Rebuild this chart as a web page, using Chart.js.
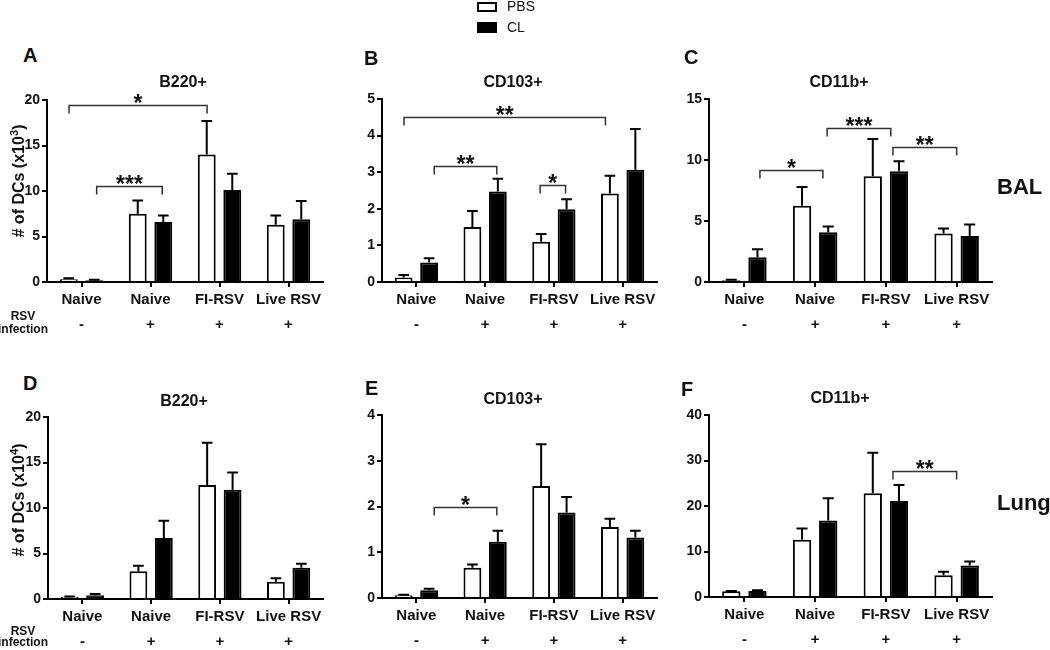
<!DOCTYPE html>
<html>
<head>
<meta charset="utf-8">
<script src="https://cdn.jsdelivr.net/npm/chart.js@4.4.1/dist/chart.umd.min.js"></script>
<style>
  html, body { margin: 0; padding: 0; background: #fff; }
  #fig { position: relative; width: 1050px; height: 650px; overflow: hidden;
         font-family: 'Liberation Sans', Arial, sans-serif; color: #111; }
  #fig canvas { position: absolute; }
  .t { position: absolute; line-height: 1; white-space: nowrap; }
  .box { position: absolute; box-sizing: border-box; border: 2px solid #000; }
  sup { font-size: 0.7em; line-height: 0; }
</style>
</head>
<body>
<div id="fig"></div>
<script>
// categories
const groups = ['Naive', 'Naive', 'FI-RSV', 'Live RSV'];
const infection = ['-', '+', '+', '+'];

// BAL (x10^3)
const balB220Pbs = [0.3, 7.5, 14.0, 6.3];
const balB220PbsSem = [0.1, 1.45, 3.7, 1.0];
const balB220Cl = [0.2, 6.6, 10.1, 6.9];
const balB220ClSem = [0.05, 0.7, 1.8, 2.0];

const balCd103Pbs = [0.12, 1.5, 1.1, 2.42];
const balCd103PbsSem = [0.07, 0.44, 0.21, 0.48];
const balCd103Cl = [0.53, 2.47, 1.99, 3.07];
const balCd103ClSem = [0.12, 0.35, 0.27, 1.11];

const balCd11bPbs = [0.14, 6.25, 8.66, 3.97];
const balCd11bPbsSem = [0.05, 1.53, 3.07, 0.41];
const balCd11bCl = [2.03, 4.08, 9.07, 3.78];
const balCd11bClSem = [0.65, 0.47, 0.82, 0.93];

// Lung (x10^4)
const lungB220Pbs = [0.22, 3.04, 12.53, 1.9];
const lungB220PbsSem = [0.05, 0.62, 4.65, 0.37];
const lungB220Cl = [0.4, 6.7, 12.0, 3.44];
const lungB220ClSem = [0.15, 1.9, 1.9, 0.44];

const lungCd103Pbs = [0.06, 0.66, 2.45, 1.55];
const lungCd103PbsSem = [0.01, 0.07, 0.91, 0.18];
const lungCd103Cl = [0.17, 1.23, 1.87, 1.32];
const lungCd103ClSem = [0.03, 0.24, 0.34, 0.15];

const lungCd11bPbs = [1.24, 12.58, 22.8, 4.8];
const lungCd11bPbsSem = [0.1, 2.48, 8.9, 0.76];
const lungCd11bCl = [1.3, 16.8, 21.1, 6.95];
const lungCd11bClSem = [0.2, 4.9, 3.5, 0.85];

// significance brackets: [from category pos, to category pos, y value, label]
const balB220Sig = [[-0.18, 1.82, 19.45, '*'], [0.22, 1.17, 10.6, '***']];
const balCd103Sig = [[-0.18, 2.75, 4.5, '**'], [0.26, 1.17, 3.16, '**'], [1.8, 2.17, 2.65, '*']];
const balCd11bSig = [[0.22, 1.11, 9.15, '*'], [1.17, 2.07, 12.6, '***'], [2.1, 3.0, 11.07, '**']];
const lungCd103Sig = [[0.26, 1.17, 1.99, '*']];
const lungCd11bSig = [[2.1, 3.0, 27.8, '**']];

const FONT = "'Liberation Sans', Arial, sans-serif";
const fig = document.getElementById('fig');

function addText(html, x, base, size, bold, center) {
    const d = document.createElement('div');
    d.className = 't';
    d.innerHTML = html;
    d.style.fontSize = size + 'px';
    d.style.fontWeight = bold ? 'bold' : 'normal';
    d.style.left = x + 'px';
    d.style.top = (base - 0.8465 * size) + 'px';
    if (center) d.style.transform = 'translateX(-50%)';
    fig.appendChild(d);
}

function addVertical(html, cx, cy, size) {
    const d = document.createElement('div');
    d.className = 't';
    d.innerHTML = html;
    d.style.fontSize = size + 'px';
    d.style.fontWeight = 'bold';
    d.style.left = cx + 'px';
    d.style.top = cy + 'px';
    d.style.transform = 'translate(-50%, -50%) rotate(-90deg)';
    fig.appendChild(d);
}

// error bars (upper SEM only)
const errBarPlugin = {
    id: 'errBars',
    afterDatasetsDraw(chart) {
        const ctx = chart.ctx;
        const y = chart.scales.y;
        ctx.save();
        ctx.strokeStyle = '#000';
        ctx.lineWidth = 2;
        chart.data.datasets.forEach((ds, di) => {
            chart.getDatasetMeta(di).data.forEach((bar, i) => {
                const top = y.getPixelForValue(ds.data[i] + ds.sem[i]);
                const half = bar.width * 0.3;
                ctx.beginPath();
                ctx.moveTo(bar.x, bar.y);
                ctx.lineTo(bar.x, top);
                ctx.moveTo(bar.x - half, top);
                ctx.lineTo(bar.x + half, top);
                ctx.stroke();
            });
        });
        ctx.restore();
    }
};

const bracketPlugin = {
    id: 'brackets',
    afterDatasetsDraw(chart, args, opts) {
        const ctx = chart.ctx;
        const xs = chart.scales.x, ys = chart.scales.y;
        ctx.save();
        (opts.items || []).forEach(([a, b, v, label]) => {
            const x1 = xs.getPixelForValue(a);
            const x2 = xs.getPixelForValue(b);
            const yy = Math.round(ys.getPixelForValue(v)) + 0.5;
            ctx.strokeStyle = '#333';
            ctx.lineWidth = 1.5;
            ctx.beginPath();
            ctx.moveTo(x1, yy + 8);
            ctx.lineTo(x1, yy);
            ctx.lineTo(x2, yy);
            ctx.lineTo(x2, yy + 8);
            ctx.stroke();
            ctx.font = 'bold 23px ' + FONT;
            ctx.textAlign = 'center';
            ctx.textBaseline = 'alphabetic';
            ctx.fillStyle = '#111';
            const m = ctx.measureText(label);
            ctx.fillText(label, (x1 + x2) / 2, yy - 3 - m.actualBoundingBoxDescent);
        });
        ctx.restore();
    }
};

const panels = [
    { letter: 'A', lx: 23, lb: 62, title: 'B220+', tx: 183, tb: 88, area: [47, 100, 323, 282], max: 20, step: 5,
      pbs: balB220Pbs, pbsSem: balB220PbsSem, cl: balB220Cl, clSem: balB220ClSem, sig: balB220Sig },
    { letter: 'B', lx: 364, lb: 65, title: 'CD103+', tx: 513, tb: 88, area: [382, 99, 657, 282], max: 5, step: 1,
      pbs: balCd103Pbs, pbsSem: balCd103PbsSem, cl: balCd103Cl, clSem: balCd103ClSem, sig: balCd103Sig },
    { letter: 'C', lx: 684, lb: 64, title: 'CD11b+', tx: 839, tb: 88, area: [709, 99, 992, 282], max: 15, step: 5,
      pbs: balCd11bPbs, pbsSem: balCd11bPbsSem, cl: balCd11bCl, clSem: balCd11bClSem, sig: balCd11bSig },
    { letter: 'D', lx: 23, lb: 390, title: 'B220+', tx: 184, tb: 407, area: [48, 417, 323, 599], max: 20, step: 5,
      pbs: lungB220Pbs, pbsSem: lungB220PbsSem, cl: lungB220Cl, clSem: lungB220ClSem, sig: [] },
    { letter: 'E', lx: 365, lb: 395, title: 'CD103+', tx: 513, tb: 405, area: [382, 415, 657, 598], max: 4, step: 1,
      pbs: lungCd103Pbs, pbsSem: lungCd103PbsSem, cl: lungCd103Cl, clSem: lungCd103ClSem, sig: lungCd103Sig },
    { letter: 'F', lx: 681, lb: 396, title: 'CD11b+', tx: 840, tb: 404, area: [709, 415, 992, 597], max: 40, step: 10,
      pbs: lungCd11bPbs, pbsSem: lungCd11bPbsSem, cl: lungCd11bCl, clSem: lungCd11bClSem, sig: lungCd11bSig }
];

Chart.defaults.font.family = FONT;
Chart.defaults.color = '#111';

function buildChart(p) {
    const [l, t, r, b] = p.area;
    const padTop = 15, yW = 40, xH = 60, padRight = 6;
    const canvas = document.createElement('canvas');
    canvas.width = r - l + yW + padRight;
    canvas.height = b - t + padTop + xH;
    canvas.style.left = (l - yW) + 'px';
    canvas.style.top = (t - padTop) + 'px';
    fig.appendChild(canvas);

    addText(p.letter, p.lx, p.lb, 20, true, false);
    addText(p.title, p.tx, p.tb, 16, true, true);

    return new Chart(canvas, {
        type: 'bar',
        data: {
            labels: groups.map((g, i) => [g, infection[i]]),
            datasets: [
                { label: 'PBS', data: p.pbs, sem: p.pbsSem, backgroundColor: '#fff', borderColor: '#000', borderWidth: 2 },
                { label: 'CL', data: p.cl, sem: p.clSem, backgroundColor: '#000', borderColor: '#000', borderWidth: 2 }
            ]
        },
        options: {
            responsive: false,
            animation: false,
            events: [],
            layout: { padding: { top: padTop, right: padRight, left: 0, bottom: 0 } },
            datasets: { bar: { categoryPercentage: 0.74, barPercentage: 0.7 } },
            plugins: {
                legend: { display: false },
                tooltip: { enabled: false },
                brackets: { items: p.sig }
            },
            scales: {
                x: {
                    grid: { display: true, drawOnChartArea: false, offset: false, tickLength: 5, color: '#000', lineWidth: 2 },
                    border: { color: '#000', width: 2 },
                    ticks: { font: { size: 15, weight: 'bold', lineHeight: 1.7 }, color: '#111', padding: 0, maxRotation: 0, autoSkip: false },
                    afterFit: s => { s.height = xH; }
                },
                y: {
                    min: 0,
                    max: p.max,
                    ticks: { stepSize: p.step, font: { size: 14, weight: 'bold' }, color: '#111', padding: 2 },
                    grid: { display: true, drawOnChartArea: false, tickLength: 5, color: '#000', lineWidth: 2 },
                    border: { color: '#000', width: 2 },
                    afterFit: s => { s.width = yW; }
                }
            }
        },
        plugins: [errBarPlugin, bracketPlugin]
    });
}

panels.forEach(buildChart);

// y axis titles
addVertical('# of DCs (x10<sup>3</sup>)', 19, 181, 16);
addVertical('# of DCs (x10<sup>4</sup>)', 19, 500, 16);

// RSV infection row labels
addText('RSV', 23, 320, 12, true, true);
addText('infection', 23, 333, 12, true, true);
addText('RSV', 23, 635, 12, true, true);
addText('infection', 23, 646, 12, true, true);

// tissue labels
addText('BAL', 997, 195, 22, true, false);
addText('Lung', 997, 511, 22, true, false);

// legend
const pbsBox = document.createElement('div');
pbsBox.className = 'box';
Object.assign(pbsBox.style, { left: '477px', top: '2px', width: '20px', height: '10px', background: '#fff' });
fig.appendChild(pbsBox);
const clBox = document.createElement('div');
clBox.className = 'box';
Object.assign(clBox.style, { left: '477px', top: '22px', width: '20px', height: '11px', background: '#000' });
fig.appendChild(clBox);
addText('PBS', 507, 11, 14, false, false);
addText('CL', 507, 32, 14, false, false);
</script>
</body>
</html>
